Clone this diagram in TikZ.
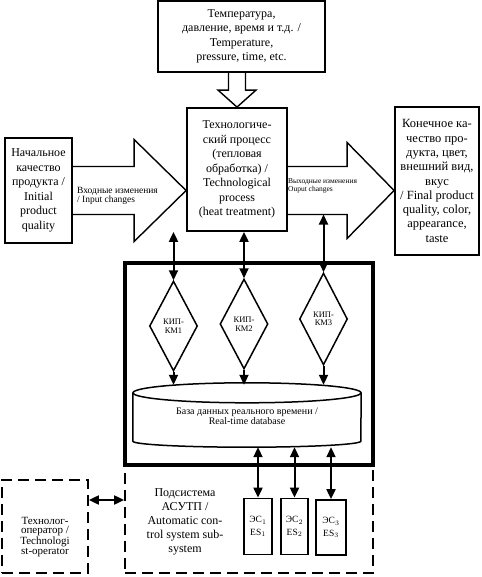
\documentclass[tikz,border=0pt]{standalone}
\usepackage{fontspec}
\setmainfont{Liberation Serif}
\usetikzlibrary{arrows.meta}
\usetikzlibrary{calc}
\usetikzlibrary{shapes.geometric}

\begin{document}
\begin{tikzpicture}[x=1pt,y=1pt,
    box/.style={draw, line width=1.8pt, align=center, inner sep=2pt, font=\fontsize{12}{14.5}\selectfont},
    hollow/.style={draw, line width=1.4pt},
    kip/.style={draw, diamond, line width=1.5pt, minimum width=48pt, minimum height=90pt, inner sep=0pt, align=center, font=\fontsize{8.5}{8.5}\selectfont},
    esbox/.style={draw, line width=1.8pt, minimum width=28pt, minimum height=56pt, inner sep=0pt, align=center, font=\fontsize{9.5}{12.5}\selectfont},
    dashbox/.style={draw, line width=1.8pt, dash pattern=on 11pt off 6pt},
    dbl/.style={{Triangle[length=10pt,width=9pt]}-{Triangle[length=10pt,width=9pt]}, line width=2pt},
    sgl/.style={-{Triangle[length=10pt,width=9pt]}, line width=2pt}
  ]
      \useasboundingbox (0,0) rectangle (481,-577);

      % Boxes
      \node[box, minimum width=167pt, minimum height=71pt] (temp) at (241.5,-36.5) {Температура,\\давление, время и т.д. /\\Temperature,\\pressure, time, etc.};
      \node[box, minimum width=100pt, minimum height=123pt] (proc) at (237,-169.5) {Технологиче-\\ский процесс\\(тепловая\\обработка) /\\Technological\\process\\(heat treatment)};
      \node[box, minimum width=67pt, minimum height=105pt] (init) at (38.5,-190.5) {Начальное\\качество\\продукта /\\Initial\\product\\quality};
      \node[box, minimum width=84pt, minimum height=148pt, font=\fontsize{12.5}{14.3}\selectfont] (final) at (437,-181) {Конечное ка-\\чество про-\\дукта, цвет,\\внешний вид,\\вкус\\/ Final product\\quality, color,\\appearance,\\taste};

      % Hollow arrows
      \coordinate (tpA) at (temp.south -| proc.north);
      \coordinate (tpB) at (proc.north);
      \draw[hollow] ($(tpA)+(-8.5,0)$) -- ($(tpB)+(-8.5,17)$) -- ($(tpB)+(-19,17)$) -- (tpB) -- ($(tpB)+(19,17)$) -- ($(tpB)+(8.5,17)$) -- ($(tpA)+(8.5,0)$);

      \coordinate (inA) at (init.east);
      \coordinate (inB) at (proc.west |- init.east);
      \draw[hollow] ($(inA)+(0,24)$) -- ($(inB)+(-52,24)$) -- ($(inB)+(-52,51)$) -- (inB) -- ($(inB)+(-52,-51)$) -- ($(inB)+(-52,-24)$) -- ($(inA)+(0,-24)$);
      \node[anchor=west, align=left, inner sep=0pt, font=\fontsize{9.5}{9}\selectfont] (inlbl) at ($(inA)+(4,-5)$) {Входные изменения\\/ Input changes};

      \coordinate (outA) at (proc.east |- init.east);
      \coordinate (outB) at (final.west |- init.east);
      \coordinate (outS) at ($(outA)+(0,-24)$);
      \draw[hollow] ($(outA)+(0,24)$) -- ($(outB)+(-47,24)$) -- ($(outB)+(-47,48)$) -- (outB) -- ($(outB)+(-47,-48)$) -- ($(outB)+(-47,-24)$) -- (outS);
      \node[anchor=west, align=left, inner sep=0pt, font=\fontsize{7.5}{8}\selectfont] (outlbl) at ($(outA)+(0,4.5)$) {Выходные изменения\\Ouput changes};

      % Subsystem
      \node[dashbox, minimum width=248pt, minimum height=108pt] (sub) at (249,-519) {};
      \node[dashbox, minimum width=86pt, minimum height=93pt] (oper) at (45,-526.5) {};
      \node[draw, line width=4.5pt, minimum width=248pt, minimum height=202pt] (acs) at (249,-364) {};
      \node[align=center, font=\fontsize{12}{14}\selectfont] (subtxt) at (185,-522) {Подсистема\\АСУТП /\\Automatic con-\\trol system sub-\\system};
      \node[align=center, font=\fontsize{11}{9.5}\selectfont] (opertxt) at (45,-537) {Технолог-\\оператор /\\Technologi\\st-operator};

      % Instruments
      \node[kip] (kip1) at (173.5,-326) {КИП-\\КМ1};
      \node[kip] (kip2) at (244,-324) {КИП-\\КМ2};
      \node[kip, minimum height=92pt] (kip3) at (323.5,-319) {КИП-\\КМ3};

      % Database
      \node[minimum width=228pt, minimum height=62pt, align=center, font=\fontsize{10}{10}\selectfont] (db) at (247,-416) {База данных реального времени /\\Real-time database};
      \draw[line width=1.5pt] ($(db.north)+(0,-8)$) ellipse [x radius=114, y radius=10];
      \draw[line width=1.5pt] ($(db.north west)+(0,-8)$) -- ($(db.south west)+(0,6)$) arc[start angle=180, end angle=360, x radius=114, y radius=6] -- ($(db.north east)+(0,-8)$);

      % Expert systems
      \node[esbox] (es1) at (258,-526.5) {ЭС$_1$\\ES$_1$};
      \node[esbox, minimum width=27pt] (es2) at (294.5,-526.5) {ЭС$_2$\\ES$_2$};
      \node[esbox, minimum width=30pt, minimum height=55pt] (es3) at (331,-527.5) {ЭС$_3$\\ES$_3$};

      % Links
      \foreach \k in {1,2}
      {
        \draw[dbl] (proc.south -| kip\k.north) -- (kip\k.north);
      }
      \draw[dbl] (outS -| kip3.north) -- (kip3.north);
      \foreach \k in {1,2,3}
      {
        \draw[sgl] (kip\k.south) -- (kip\k.south |- db.north);
        \draw[dbl] (db.south -| es\k.north) -- (es\k.north);
      }
      \coordinate (opA) at ([yshift=26.5pt]oper.east);
      \draw[dbl] (opA) -- (opA -| sub.west);
  \end{tikzpicture}
\end{document}
